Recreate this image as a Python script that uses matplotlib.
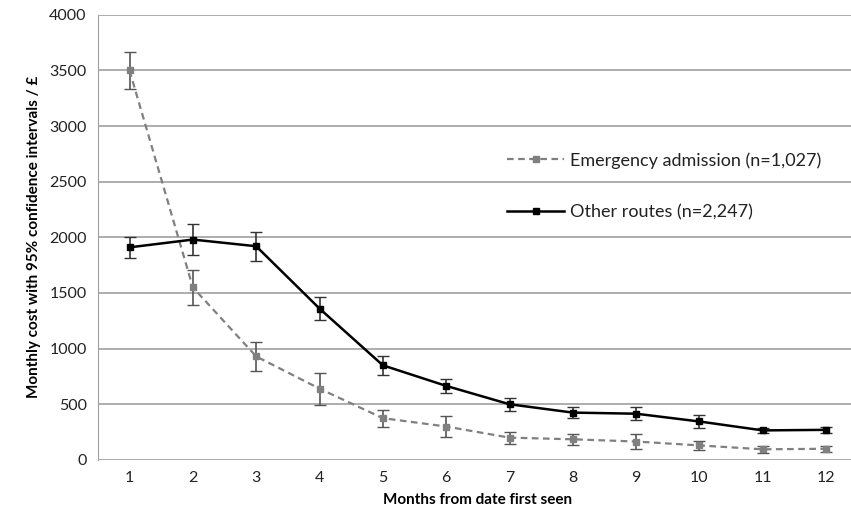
import numpy as np
import matplotlib.pyplot as plt
from matplotlib.lines import Line2D

plt.rcParams['font.family'] = ['Lato', 'DejaVu Sans']

months = np.arange(1, 13)

# Emergency admission (n=1,027)
emerg = [3500, 1550, 930, 640, 375, 300, 200, 185, 165, 130, 95, 100]
emerg_ci = [170, 155, 130, 145, 75, 90, 55, 50, 70, 40, 30, 25]

# Other routes (n=2,247)
other = [1910, 1980, 1920, 1360, 850, 665, 500, 425, 415, 345, 265, 270]
other_ci = [95, 140, 130, 100, 85, 65, 60, 50, 60, 55, 25, 30]

fig = plt.figure(figsize=(8.51, 5.28), dpi=100)
ax = fig.add_axes([0.115, 0.129, 0.893, 0.843])

ax.errorbar(months, emerg, yerr=emerg_ci, color="#808080", ls=(0, (3, 2)), lw=1.6,
            marker="s", ms=5, capsize=4, elinewidth=1.2, ecolor="#555555", zorder=3)
ax.errorbar(months, other, yerr=other_ci, color="black", ls="-", lw=1.8,
            marker="s", ms=5, capsize=4, elinewidth=1.2, ecolor="#333333", zorder=4)

ax.set_xlim(0.5, 12.5)
ax.set_ylim(0, 4000)
ax.set_xticks(months)
ax.set_yticks(np.arange(0, 4001, 500))
ax.yaxis.grid(True, color="#a0a0a0", lw=1.2)
ax.set_axisbelow(True)
for s in ["top", "right", "bottom"]:
    ax.spines[s].set_visible(False)
ax.spines["left"].set_color("#a0a0a0")
ax.tick_params(length=0, labelsize=11.5, colors="#222222", pad=8)

ax.set_xlabel("Months from date first seen", fontsize=11, fontweight="bold", labelpad=6)
ax.set_ylabel("Monthly cost with 95% confidence intervals / £", fontsize=11,
              fontweight="bold", labelpad=6)

handles = [
    Line2D([], [], color="#808080", ls=(0, (3, 2)), lw=1.6, marker="s", ms=4),
    Line2D([], [], color="black", ls="-", lw=1.8, marker="s", ms=4),
]
labels = ["Emergency admission (n=1,027)", "Other routes (n=2,247)"]
leg = ax.legend(handles, labels, loc="center left", bbox_to_anchor=(0.538, 0.615),
                frameon=False, fontsize=13, labelspacing=1.95, handlelength=3.2,
                handletextpad=0.3, borderpad=0, borderaxespad=0)
for t in leg.get_texts():
    t.set_color("#222222")

fig.savefig("out.png", dpi=100)
